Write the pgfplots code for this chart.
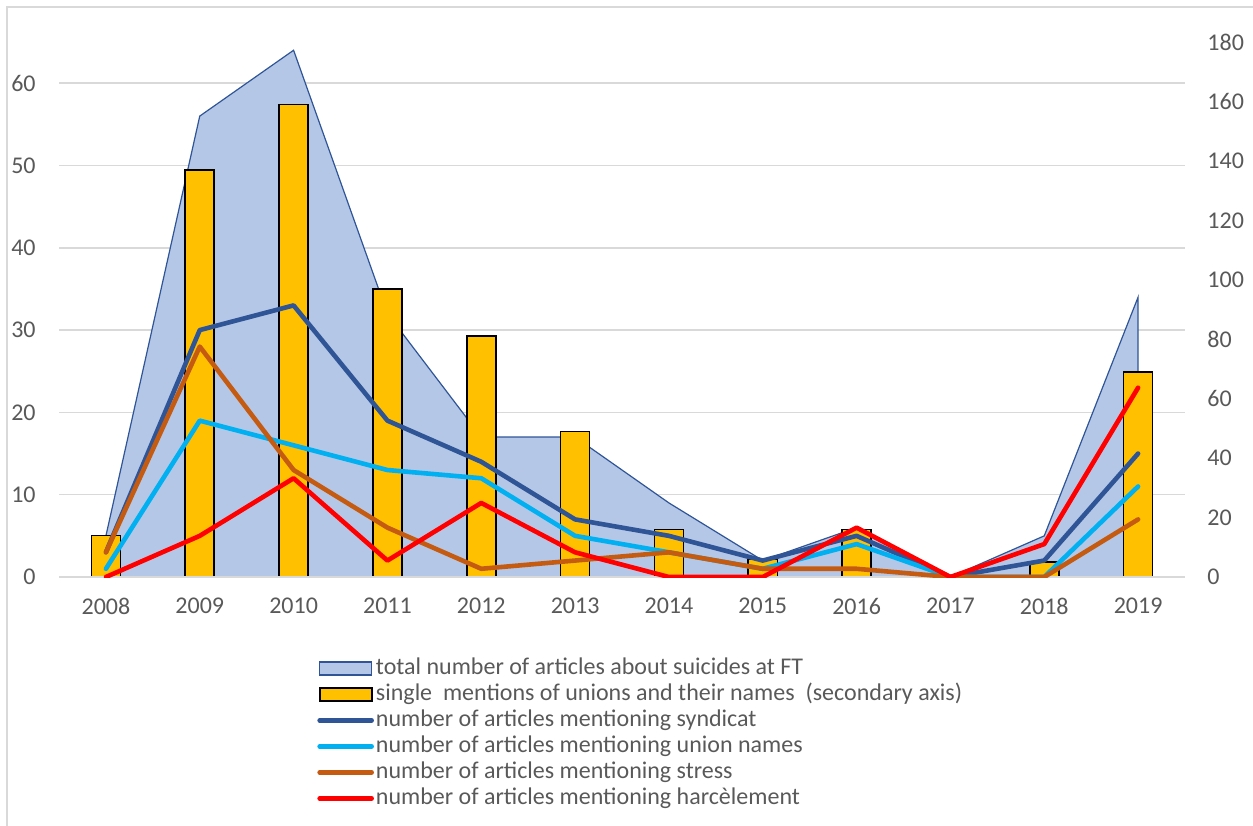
\documentclass[border=0pt]{standalone}
\usepackage{fontspec}
\setmainfont{Carlito}
\usepackage{pgfplots}
\usepackage{pgfplotstable}
\pgfplotsset{compat=1.18}

\definecolor{areafill}{HTML}{B4C7E7}
\definecolor{areadraw}{HTML}{2F5597}
\definecolor{baryellow}{HTML}{FFC000}
\definecolor{syn}{HTML}{2F5597}
\definecolor{uni}{HTML}{00B0F0}
\definecolor{stress}{HTML}{C55A11}
\definecolor{harc}{HTML}{FF0000}
\definecolor{gridgray}{HTML}{D9D9D9}
\definecolor{textgray}{HTML}{595959}

% year index, total articles, single mentions (right axis), syndicat, union names, stress, harcelement
\pgfplotstableread{
x  total mentions syndicat unions stress harc
0  5   14   3   1   3   0
1  56  137  30  19  28  5
2  64  159  33  16  13  12
3  32  97   19  13  6   2
4  17  81   14  12  1   9
5  17  49   7   5   2   3
6  9   16   5   3   3   0
7  2   6    2   1   1   0
8  6   16   5   4   1   6
9  0   0    0   0   0   0
10 5   5    2   0   0   4
11 34  69   15  11  7   23
}\data

\pgfplotsset{
  base/.style={
    scale only axis, width=563pt, height=267.5pt,
    at={(29.5pt,-288.5pt)}, anchor=south west,
    xmin=-0.5, xmax=11.5, ymin=0,
    axis line style={draw=none},
    major tick length=0pt,
    tick label style={font=\fontsize{12}{14}\selectfont, text=textgray, inner sep=0pt},
    /pgf/number format/assume math mode=true,
  },
  rectlegend/.style={legend image code/.code={\draw[##1] (0pt,-3.25pt) rectangle (26pt,3.25pt);}},
  linelegend/.style={legend image code/.code={\draw[##1, line cap=round] (0pt,0pt) -- (26pt,0pt);}},
}

\begin{document}
\begin{tikzpicture}
\useasboundingbox (0,0) rectangle (626.5pt,-412.5pt);
\draw[gridgray, line width=1pt] (3.5pt,-430pt) -- (3.5pt,-3.5pt) -- (640pt,-3.5pt);

% primary axis: area, gridlines, left and x labels
\begin{axis}[base,
  ymax=65, ytick={0,10,...,60},
  ymajorgrids, grid style={gridgray, line width=0.75pt},
  xtick={0,...,11},
  xticklabels={2008,2009,2010,2011,2012,2013,2014,2015,2016,2017,2018,2019},
  xticklabel style={anchor=north, yshift=-10.5pt},
  yticklabel style={anchor=east, xshift=-11.5pt},
]
\addplot[fill=areafill, draw=areadraw, line width=0.6pt] table[x=x, y=total]{\data} \closedcycle;
\end{axis}

% secondary axis: bars
\begin{axis}[base,
  ymax=180, ytick={0,20,...,180}, xtick=\empty,
  yticklabel pos=right,
  yticklabel style={anchor=west, xshift=11pt},
]
\addplot[ybar, bar width=0.31, fill=baryellow, draw=black, line width=0.8pt] table[x=x, y=mentions]{\data};
\end{axis}

% primary scale again: lines and legend
\begin{axis}[base,
  ymax=65, ytick={0}, yticklabels={}, xtick=\empty,
  ymajorgrids, grid style={gridgray, line width=0.75pt},
  legend cell align=left,
  legend style={at={(0.2291,-0.1458)}, anchor=north west, draw=none, fill=none,
    inner sep=0pt, row sep=0pt,
    font=\fontsize{12}{13}\selectfont, text=textgray,
    nodes={inner sep=1pt, text height=8.5pt, text depth=2.5pt}},
]
\addlegendimage{rectlegend, fill=areafill, draw=areadraw, line width=0.8pt}
\addlegendentry{total number of articles about suicides at FT}
\addlegendimage{rectlegend, fill=baryellow, draw=black, line width=0.9pt}
\addlegendentry{single\ \ mentions of unions and their names\ \ (secondary axis)}
\addplot[syn, line width=2.3pt, line join=round, line cap=round, linelegend] table[x=x, y=syndicat]{\data};
\addlegendentry{number of articles mentioning syndicat}
\addplot[uni, line width=2.3pt, line join=round, line cap=round, linelegend] table[x=x, y=unions]{\data};
\addlegendentry{number of articles mentioning union names}
\addplot[stress, line width=2.3pt, line join=round, line cap=round, linelegend] table[x=x, y=stress]{\data};
\addlegendentry{number of articles mentioning stress}
\addplot[harc, line width=2.3pt, line join=round, line cap=round, linelegend] table[x=x, y=harc]{\data};
\addlegendentry{number of articles mentioning harcèlement}
\end{axis}
\end{tikzpicture}
\end{document}
